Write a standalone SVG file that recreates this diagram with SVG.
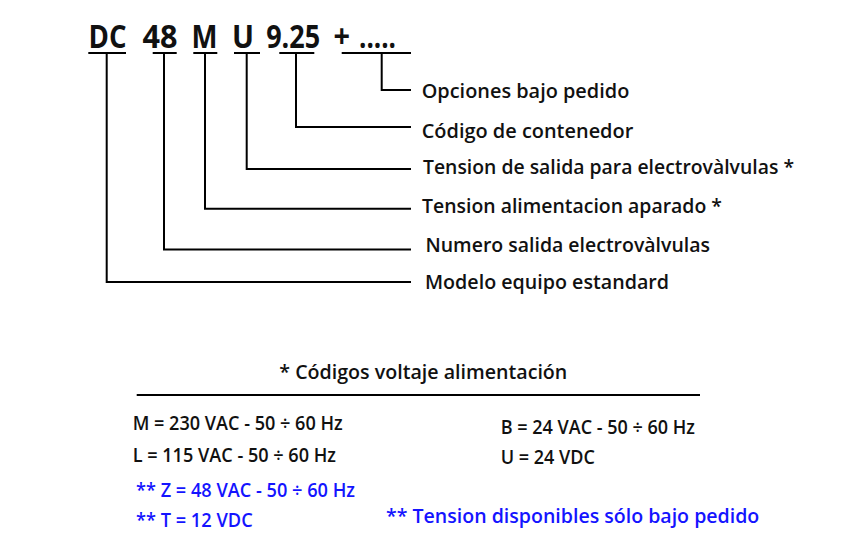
<svg xmlns="http://www.w3.org/2000/svg" width="860" height="540" viewBox="0 0 860 540">
<style>
text{font-family:"Open Sans","Noto Sans","Liberation Sans",sans-serif;font-weight:600;fill:#111}
.code{font-size:33px;font-weight:700}
.lbl{font-size:19.5px}
.tab{font-size:19px}
.head{font-size:20px}
.blue{fill:#1414ff}
.big{font-size:20.5px}
.ln{stroke:#000;stroke-width:2;fill:none}
</style>
<rect width="860" height="540" fill="#fff"/>
<g id="code">
<g id="tok-dc"><text class="code" x="88.5" y="48.3" textLength="38" lengthAdjust="spacingAndGlyphs">DC</text><line class="ln" x1="88.3" y1="53" x2="126" y2="53"/></g>
<g id="tok-48"><text class="code" x="142.5" y="48.3" textLength="35" lengthAdjust="spacingAndGlyphs">48</text><line class="ln" x1="152.7" y1="53" x2="176.7" y2="53"/></g>
<g id="tok-m"><text class="code" x="191.5" y="48.3" textLength="26" lengthAdjust="spacingAndGlyphs">M</text><line class="ln" x1="193.3" y1="53" x2="217.3" y2="53"/></g>
<g id="tok-u"><text class="code" x="232" y="48.3" textLength="22" lengthAdjust="spacingAndGlyphs">U</text><line class="ln" x1="234" y1="53" x2="260" y2="53"/></g>
<g id="tok-925"><text class="code" x="266.2" y="48.3" textLength="54" lengthAdjust="spacingAndGlyphs">9.25</text><line class="ln" x1="279.3" y1="53" x2="314.3" y2="53"/></g>
<g id="tok-plus"><text class="code" x="333.5" y="48.3" textLength="16.5" lengthAdjust="spacingAndGlyphs">+</text><text class="code" x="359" y="48.3" textLength="37" lengthAdjust="spacingAndGlyphs">.....</text><line class="ln" x1="341.7" y1="53" x2="411" y2="53"/></g>
</g>
<g id="connectors">
<path class="ln" d="M381.7,53 V90 H411"/>
<path class="ln" d="M296,53 V127 H411"/>
<path class="ln" d="M246.7,53 V169 H411"/>
<path class="ln" d="M205,53 V208.7 H411"/>
<path class="ln" d="M164,53 V249.5 H411"/>
<path class="ln" d="M106.7,53 V282 H411"/>
</g>
<g id="label-opciones"><text class="lbl" x="421.7" y="98.3" textLength="207.6" lengthAdjust="spacingAndGlyphs">Opciones bajo pedido</text></g>
<g id="label-codigo"><text class="lbl" x="421.7" y="138.3" textLength="211.6" lengthAdjust="spacingAndGlyphs">Código de contenedor</text></g>
<g id="label-tension-salida"><text class="lbl" x="423" y="174.3" textLength="371" lengthAdjust="spacingAndGlyphs">Tension de salida para electrovàlvulas *</text></g>
<g id="label-tension-alim"><text class="lbl" x="422" y="212.7" textLength="300" lengthAdjust="spacingAndGlyphs">Tension alimentacion aparado *</text></g>
<g id="label-numero"><text class="lbl" x="425.5" y="251.7" textLength="284.5" lengthAdjust="spacingAndGlyphs">Numero salida electrovàlvulas</text></g>
<g id="label-modelo"><text class="lbl" x="425" y="289" textLength="244" lengthAdjust="spacingAndGlyphs">Modelo equipo estandard</text></g>
<g id="voltage-table">
<text class="head" x="279.3" y="379" textLength="288" lengthAdjust="spacingAndGlyphs">* Códigos voltaje alimentación</text>
<line class="ln" x1="136.7" y1="395" x2="700" y2="395"/>
<text class="tab" x="132.7" y="430" textLength="210" lengthAdjust="spacingAndGlyphs">M = 230 VAC - 50 ÷ 60 Hz</text>
<text class="tab" x="132.7" y="462.3" textLength="203.3" lengthAdjust="spacingAndGlyphs">L = 115 VAC - 50 ÷ 60 Hz</text>
<text class="tab blue" x="136" y="496.7" textLength="219" lengthAdjust="spacingAndGlyphs">** Z = 48 VAC - 50 ÷ 60 Hz</text>
<text class="tab blue" x="136" y="526.7" textLength="116.7" lengthAdjust="spacingAndGlyphs">** T = 12 VDC</text>
<text class="tab" x="500.7" y="434" textLength="194.3" lengthAdjust="spacingAndGlyphs">B = 24 VAC - 50 ÷ 60 Hz</text>
<text class="tab" x="500.7" y="464" textLength="94.3" lengthAdjust="spacingAndGlyphs">U = 24 VDC</text>
<text class="big blue" x="386" y="523.3" textLength="373.3" lengthAdjust="spacingAndGlyphs">** Tension disponibles sólo bajo pedido</text>
</g>
</svg>
